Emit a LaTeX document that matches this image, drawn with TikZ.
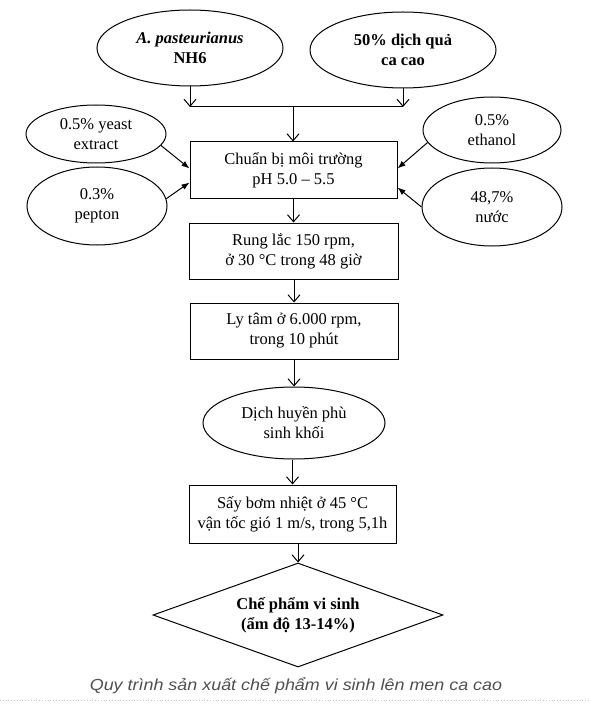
\documentclass[tikz,border=0pt]{standalone}
\usepackage{fontspec}
\setmainfont{Liberation Serif}
\newfontfamily\captionfont[FakeStretch=1.12]{Liberation Sans}
\usepackage{xcolor}
\usetikzlibrary{arrows.meta, positioning, shapes.geometric}
\definecolor{captiongray}{RGB}{80,80,80}
\definecolor{rulegray}{RGB}{200,200,200}

\begin{document}
\begin{tikzpicture}[x=1pt, y=1pt, line width=1pt,
		txt/.style={align=center, font=\fontsize{16.5}{20}\selectfont},
		oval/.style={txt, draw, ellipse, inner sep=0pt},
		stepbox/.style={txt, draw, rectangle, inner sep=0pt},
		decision/.style={txt, draw, diamond, inner sep=0pt, aspect=2.8},
		flow/.style={-{Straight Barb[length=7pt, width=12pt]}},
		feed/.style={-{Latex[length=8pt, width=6pt]}}]
				\useasboundingbox (0,0) rectangle (589,-711);

				\node[oval, minimum width=186, minimum height=76] (strain) at (190,-48) {\textbf{\textit{A. pasteurianus}}\\\textbf{NH6}};
				\node[oval, minimum width=186, minimum height=76] (juice) at (403,-50) {\textbf{50\% dịch quả}\\\textbf{ca cao}};
				\coordinate (join) at (293,-107);
				\draw[flow] (strain.south) -- (strain.south |- join);
				\draw[flow] (juice.south) -- (juice.south |- join);
				\draw (strain.south |- join) -- (juice.south |- join);

				\node[stepbox, minimum width=207, minimum height=57] (prep) at (293.5,-170.5) {Chuẩn bị môi trường\\pH 5.0 – 5.5};
				\draw[flow] (join) -- (join |- prep.north);

				\node[oval, minimum width=140, minimum height=58] (yeast) at (96,-134) {0.5\% yeast\\extract};
				\node[oval, minimum width=140, minimum height=78] (pepton) at (97,-206) {0.3\%\\pepton};
				\node[oval, minimum width=138, minimum height=66] (ethanol) at (492,-130) {0.5\%\\ethanol};
				\node[oval, minimum width=140, minimum height=78] (water) at (492,-207) {48,7\%\\nước};
				\draw[feed] (yeast.-10) -- ([yshift=2]prep.west);
				\draw[feed] (pepton.6) -- ([yshift=-12]prep.west);
				\draw[feed] (ethanol.191) -- ([yshift=2]prep.east);
				\draw[feed] (water.180) -- ([yshift=-17]prep.east);

				\node[stepbox, minimum width=209, minimum height=56] (shake) at (293.5,-251) {Rung lắc 150 rpm,\\ở 30 °C trong 48 giờ};
				\node[stepbox, minimum width=208, minimum height=56] (spin) at (294,-331) {Ly tâm ở 6.000 rpm,\\trong 10 phút};
				\node[oval, minimum width=182, minimum height=72] (biomass) at (294,-423) {Dịch huyền phù\\sinh khối};
				\node[stepbox, minimum width=207, minimum height=58] (dry) at (292.5,-514) {Sấy bơm nhiệt ở 45 °C\\vận tốc gió 1 m/s, trong 5,1h};
				\node[decision, minimum width=290, minimum height=104] (product) at (298,-615) {\textbf{Chế phẩm vi sinh}\\\textbf{(ẩm độ 13-14\%)}};

				\draw[flow] (prep.south -| shake.north) -- (shake.north);
				\draw[flow] (shake.south -| spin.north) -- (spin.north);
				\draw[flow] (spin.south -| biomass.north) -- (biomass.north);
				\draw[flow] (biomass.south -| dry.north) -- (dry.north);
				\draw[flow] (dry.south -| product.north) -- (product.north);

				\node[font=\captionfont\itshape\fontsize{16}{19}\selectfont, text=captiongray, anchor=base] (caption) at (296,-690) {Quy trình sản xuất chế phẩm vi sinh lên men ca cao};
				\draw[rulegray, dotted, line width=0.8pt] (0,-700) -- (589,-700);
			\end{tikzpicture}
\end{document}
